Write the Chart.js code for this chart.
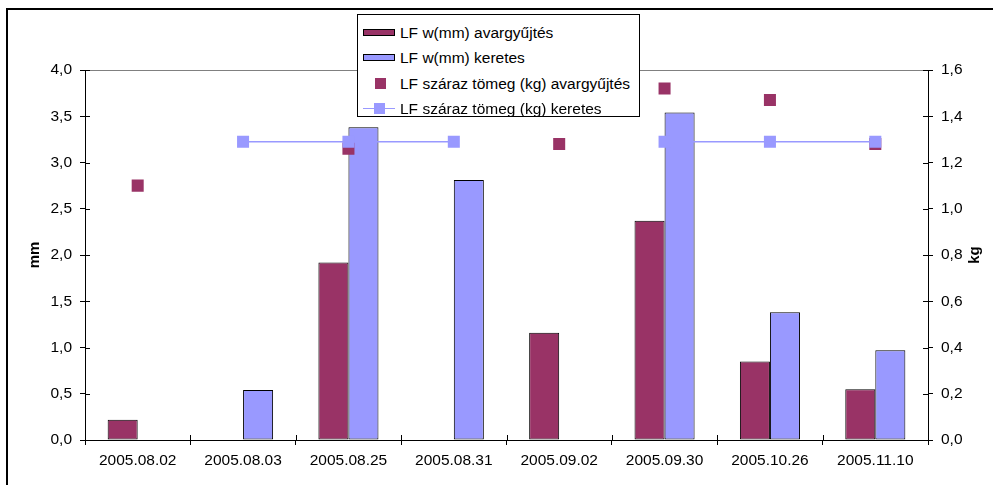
<!DOCTYPE html>
<html>
<head>
<meta charset="utf-8">
<script src="https://cdn.jsdelivr.net/npm/chart.js@4"></script>
<style>
  body { margin: 0; background: #fff; }
  #wrap { position: relative; width: 993px; height: 485px; overflow: hidden; }
  #legend {
    position: absolute; left: 357px; top: 14px; width: 281px; height: 101px;
    background: #fff; border: 1px solid #000;
    font-family: "Liberation Sans", Arial, sans-serif; font-size: 15.5px; color: #000;
  }
  .row { position: absolute; left: 0; height: 24px; width: 100%; }
  .row span.txt { position: absolute; left: 42px; top: 3px; white-space: nowrap; }
  .sw { position: absolute; }
</style>
</head>
<body>
<div id="wrap">
  <canvas id="chart" width="993" height="485"></canvas>
  <div id="legend"></div>
</div>
<script>
var datumok = ['2005.08.02', '2005.08.03', '2005.08.25', '2005.08.31', '2005.09.02', '2005.09.30', '2005.10.26', '2005.11.10'];
var wAvar = [0.22, null, 1.92, null, 1.16, 2.37, 0.85, 0.55];
var wKeretes = [null, 0.54, 3.38, 2.81, null, 3.54, 1.38, 0.97];
var tomegAvar = [1.10, null, 1.26, null, 1.28, 1.52, 1.47, 1.28];
var tomegKeretes = [null, 1.29, 1.29, 1.29, null, 1.29, 1.29, 1.29];

var bordo = '#993366';
var lila = '#9999FF';
var betu = '"Liberation Sans", Arial, sans-serif';

function vesszo(v) {
    return Number(v).toFixed(1).replace('.', ',');
}

// frame, axis titles and the inner half of the cross tick marks
var keret = {
    id: 'keret',
    afterDraw: function (chart) {
        var c = chart.ctx;
        var a = chart.chartArea;
        c.save();
        c.strokeStyle = '#000';
        c.lineWidth = 1;
        c.beginPath();
        chart.scales.y.ticks.forEach(function (t, i) {
            var y = Math.round(chart.scales.y.getPixelForTick(i)) + 0.5;
            c.moveTo(a.left, y); c.lineTo(a.left + 5, y);
        });
        chart.scales.y2.ticks.forEach(function (t, i) {
            var y = Math.round(chart.scales.y2.getPixelForTick(i)) + 0.5;
            c.moveTo(a.right - 5, y); c.lineTo(a.right, y);
        });
        var n = datumok.length;
        for (var i = 1; i < n; i++) {
            var x = Math.round(a.left + (a.right - a.left) * i / n) + 0.5;
            c.moveTo(x, a.bottom - 5); c.lineTo(x, a.bottom);
        }
        c.stroke();

        c.lineWidth = 2;
        c.strokeRect(7, 9, 1100, 1100);

        c.fillStyle = '#000';
        c.font = 'bold 15px ' + betu;
        c.textAlign = 'center';
        c.textBaseline = 'middle';
        [['mm', 35], ['kg', 975]].forEach(function (t) {
            c.save();
            c.translate(t[1], 255);
            c.rotate(-Math.PI / 2);
            c.fillText(t[0], 0, 0);
            c.restore();
        });
        c.restore();
    }
};

const ctx = document.getElementById('chart');
var chart = new Chart(ctx, {
    type: 'bar',
    data: {
        labels: datumok,
        datasets: [{
            label: 'LF w(mm) avargyűjtés',
            data: wAvar,
            backgroundColor: bordo,
            borderColor: '#000',
            borderWidth: 1,
            borderSkipped: false,
            yAxisID: 'y',
            order: 3
        }, {
            label: 'LF w(mm) keretes',
            data: wKeretes,
            backgroundColor: lila,
            borderColor: '#000',
            borderWidth: 1,
            borderSkipped: false,
            yAxisID: 'y',
            order: 3
        }, {
            type: 'line',
            label: 'LF száraz tömeg (kg) avargyűjtés',
            data: tomegAvar,
            showLine: false,
            pointStyle: 'rect',
            pointRadius: 8.5,
            pointBorderWidth: 0,
            pointBackgroundColor: bordo,
            borderColor: bordo,
            yAxisID: 'y2',
            order: 2
        }, {
            type: 'line',
            label: 'LF száraz tömeg (kg) keretes',
            data: tomegKeretes,
            borderColor: lila,
            borderWidth: 1.5,
            spanGaps: false,
            pointStyle: 'rect',
            pointRadius: 8.5,
            pointBorderWidth: 0,
            pointBackgroundColor: lila,
            yAxisID: 'y2',
            order: 1
        }]
    },
    options: {
        responsive: false,
        animation: false,
        layout: { padding: { top: 70, left: 0, right: 0, bottom: 0 } },
        datasets: {
            bar: { categoryPercentage: 0.57, barPercentage: 1.0 }
        },
        plugins: {
            legend: { display: false },
            tooltip: { enabled: false }
        },
        scales: {
            x: {
                offset: true,
                afterFit: function (s) { s.height = 45; },
                border: { color: '#000', width: 1 },
                grid: { drawOnChartArea: false, drawTicks: true, tickLength: 5, tickColor: '#000' },
                ticks: { color: '#000', font: { family: betu, size: 15.5 }, padding: 6, maxRotation: 0, autoSkip: false }
            },
            y: {
                position: 'left',
                min: 0,
                max: 4,
                afterFit: function (s) { s.width = 85; },
                border: { color: '#000', width: 1 },
                grid: {
                    drawTicks: true, tickLength: 5, tickColor: '#000',
                    color: function (c) { return c.tick && c.tick.value === 4 ? '#808080' : 'rgba(0,0,0,0)'; }
                },
                ticks: { stepSize: 0.5, color: '#000', font: { family: betu, size: 15.5 }, padding: 8, callback: vesszo }
            },
            y2: {
                position: 'right',
                min: 0,
                max: 1.6,
                afterFit: function (s) { s.width = 65; },
                border: { color: '#000', width: 1 },
                grid: { drawOnChartArea: false, drawTicks: true, tickLength: 5, tickColor: '#000' },
                ticks: { stepSize: 0.2, color: '#000', font: { family: betu, size: 15.5 }, padding: 8, callback: vesszo }
            }
        }
    },
    plugins: [keret]
});

// legend box in the top middle, built from the datasets
var jelmagyarazat = document.getElementById('legend');
chart.data.datasets.forEach(function (ds, i) {
    var row = document.createElement('div');
    row.className = 'row';
    row.style.top = (6 + i * 25.3) + 'px';
    var sw = '';
    if (ds.type === 'line' && ds.showLine === false) {
        sw = '<div class="sw" style="left:17px;top:6px;width:11px;height:11px;background:' + ds.pointBackgroundColor + '"></div>';
    } else if (ds.type === 'line') {
        sw = '<div class="sw" style="left:5px;top:11px;width:32px;height:1.5px;background:' + ds.borderColor + '"></div>' +
             '<div class="sw" style="left:16px;top:6px;width:11px;height:11px;background:' + ds.pointBackgroundColor + '"></div>';
    } else {
        sw = '<div class="sw" style="left:5px;top:8px;width:30px;height:5px;border:1px solid #000;background:' + ds.backgroundColor + '"></div>';
    }
    row.innerHTML = sw + '<span class="txt">' + ds.label + '</span>';
    jelmagyarazat.appendChild(row);
});
</script>
</body>
</html>
